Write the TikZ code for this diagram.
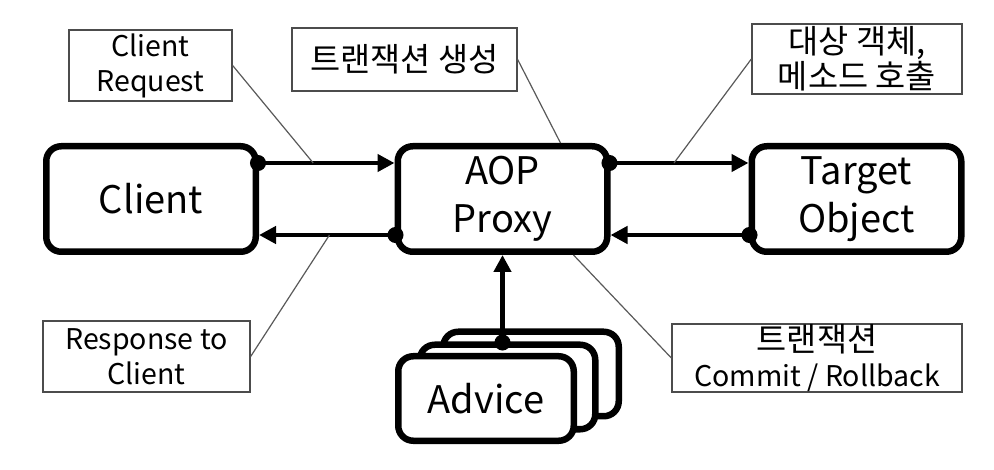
\documentclass[tikz,border=0pt]{standalone}
\usepackage{fontspec}
\setmainfont{Noto Sans CJK KR}
\newfontfamily\kr[Scale=1.15]{Noto Sans CJK KR}
\usetikzlibrary{arrows.meta}

\begin{document}
\begin{tikzpicture}[x=1pt, y=-1pt,
    box/.style={draw, line width=6.5pt, rounded corners=15pt, fill=white, align=center,
        minimum width=209.5pt, minimum height=105.5pt, font=\fontsize{38}{48}\selectfont},
    advbox/.style={box, minimum width=175.5pt, minimum height=84.5pt},
    note/.style={draw=black!70, line width=1.3pt, align=center, inner sep=0pt,
        font=\fontsize{28.5}{35}\selectfont},
    flow/.style={line width=4.5pt, shorten <=-9pt,
        {Circle[length=16pt]}-{Triangle[length=17pt,width=17pt]}},
    pointer/.style={draw=black!65, line width=1.2pt}]
    \useasboundingbox (0,0) rectangle (994,470);

    \node[box] (client) at (151,199) {Client};
    \node[box] (proxy) at (502.5,199) {AOP\\Proxy};
    \node[box] (target) at (856.5,199) {Target\\Object};

    \node[advbox] (advice3) at (531,374) {};
    \node[advbox] (advice2) at (507.5,387) {};
    \node[advbox] (advice) at (486,398.5) {Advice};

    \node[note, minimum width=163pt, minimum height=71pt] (req) at (150.5,65.5) {Client\\Request};
    \node[note, minimum width=225pt, minimum height=63pt] (create) at (404.5,59.5) {\kr 트랜잭션 생성};
    \node[note, minimum width=210pt, minimum height=70pt] (invoke) at (857,59) {\kr 대상 객체,\\\kr 메소드 호출};
    \node[note, minimum width=207pt, minimum height=71pt] (resp) at (146.5,356.5) {Response to\\Client};
    \node[note, minimum width=290pt, minimum height=68pt] (commit) at (817,358) {{\kr 트랜잭션}\\Commit / Rollback};

    \draw[flow] ([yshift=-20pt]client.north east) -- coordinate[pos=0.4] (reqpt) ([yshift=-20pt]proxy.north west);
    \draw[flow] ([yshift=20pt]proxy.south west) -- coordinate[pos=0.48] (resppt) ([yshift=20pt]client.south east);
    \draw[flow] ([yshift=-20pt]proxy.north east) -- coordinate[pos=0.46] (invokept) ([yshift=-20pt]target.north west);
    \draw[flow] ([yshift=20pt]target.south west) -- ([yshift=20pt]proxy.south east);
    \draw[flow] (proxy.south |- advice2.north) -- (proxy.south);

    \draw[pointer] (req.east) -- (reqpt);
    \draw[pointer] (create.east) -- ([xshift=-50pt]proxy.north east);
    \draw[pointer] (invoke.west) -- (invokept);
    \draw[pointer] (resp.east) -- (resppt);
    \draw[pointer] (commit.west) -- ([xshift=-37pt]proxy.south east);
\end{tikzpicture}
\end{document}
